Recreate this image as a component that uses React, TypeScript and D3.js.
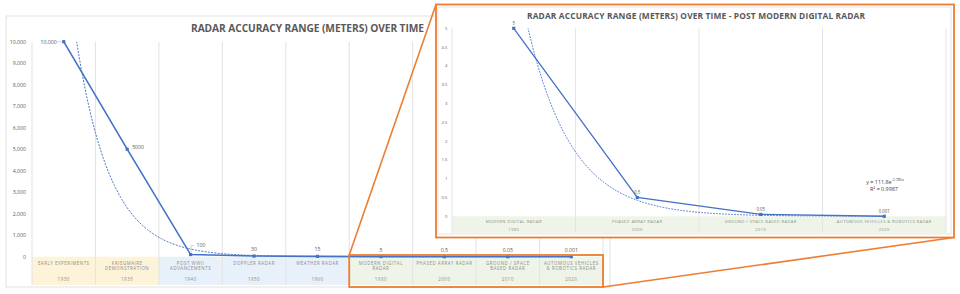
import React from "react";
import * as d3 from "d3";

// ---------- data ----------
const categoryLines: string[][] = [
  ["EARLY EXPERIMENTS"],
  ["KRIEGMAIRE", "DEMONSTRATION"],
  ["POST WWII", "ADVANCEMENTS"],
  ["DOPPLER RADAR"],
  ["WEATHER RADAR"],
  ["MODERN DIGITAL", "RADAR"],
  ["PHASED ARRAY RADAR"],
  ["GROUND / SPACE", "BASED RADAR"],
  ["AUTOMOUS VEHICLES", "& ROBOTICS RADAR"],
];
const years = ["1930", "1935", "1940", "1950", "1960", "1980", "2000", "2010", "2020"];
const accuracy = [10000, 5000, 100, 30, 15, 5, 0.5, 0.05, 0.001];
const accuracyLabels = ["10,000", "5000", "100", "30", "15", "5", "0.5", "0.05", "0.001"];
const eras = ["early", "early", "postwar", "postwar", "postwar", "modern", "modern", "modern", "modern"];
const yTicks = [0, 1000, 2000, 3000, 4000, 5000, 6000, 7000, 8000, 9000, 10000];

const insetCategories = ["MODERN DIGITAL RADAR", "PHASED ARRAY RADAR", "GROUND / SPACE BASED RADAR", "AUTOMOUS VEHICLES & ROBOTICS RADAR"];
const insetYears = ["1980", "2000", "2010", "2020"];
const insetValues = [5, 0.5, 0.05, 0.001];
const insetLabels = ["5", "0.5", "0.05", "0.001"];
const insetTicks = [0, 0.5, 1, 1.5, 2, 2.5, 3, 3.5, 4, 4.5, 5];
const trendR2Label = "R² = 0.9987";

const titleMain = "RADAR ACCURACY RANGE (METERS) OVER TIME";
const titleInset = "RADAR ACCURACY RANGE (METERS) OVER TIME - POST MODERN DIGITAL RADAR";

// ---------- styles ----------
const BLUE = "#4472C4";
const ORANGE = "#ED7D31";
const TXT = "#595959";
const LIGHT = "#8C8C8C";
const GRID = "#E4E4E4";
const FONT = "'Open Sans', 'Noto Sans', sans-serif";
const eraColor: Record<string, string> = { early: "#FDF3D8", postwar: "#E8F0FA", modern: "#EEF5E8" };

function expFit(vals: number[]) {
  const xs = vals.map((_, i) => i + 1);
  const ls = vals.map((v) => Math.log(v));
  const mx = d3.mean(xs)!;
  const ml = d3.mean(ls)!;
  let sxy = 0, sxx = 0;
  xs.forEach((x, i) => { sxy += (x - mx) * (ls[i] - ml); sxx += (x - mx) ** 2; });
  const b = sxy / sxx;
  const a = Math.exp(ml - b * mx);
  return { a, b };
}

function Marker({ x, y }: { x: number; y: number }) {
  return <rect x={x - 1.6} y={y - 1.6} width={3.2} height={3.2} fill={BLUE} />;
}

export default function App() {
  // ----- main chart -----
  const x = d3.scaleBand().domain(years).range([32, 603]);
  const y = d3.scaleLinear().domain([0, 10000]).range([256.7, 41.7]);
  const cx = (i: number) => x(years[i])! + x.bandwidth() / 2;
  const idx = d3.scaleLinear().domain([1, years.length]).range([cx(0), cx(years.length - 1)]);
  const fit = expFit(accuracy);
  const trend = d3.range(1, years.length + 0.001, 0.02).map((t) => [idx(t), y(fit.a * Math.exp(fit.b * t))] as [number, number]);
  const line = d3.line<number>().x((_, i) => cx(i)).y((d) => y(d));
  const trendLine = d3.line<[number, number]>().x((d) => d[0]).y((d) => Math.max(-500, d[1]));
  const bandTop = 256.7;
  const bandBottom = 285;

  // ----- inset chart -----
  const xi = d3.scaleBand().domain(insetYears).range([452, 946]);
  const yi = d3.scaleLinear().domain([0, 5]).range([216.3, 28.3]);
  const cxi = (i: number) => xi(insetYears[i])! + xi.bandwidth() / 2;
  const idxi = d3.scaleLinear().domain([1, insetYears.length]).range([cxi(0), cxi(insetYears.length - 1)]);
  const fiti = expFit(insetValues);
  const trendi = d3.range(1, insetYears.length + 0.001, 0.01).map((t) => [idxi(t), yi(fiti.a * Math.exp(fiti.b * t))] as [number, number]);
  const linei = d3.line<number>().x((_, i) => cxi(i)).y((d) => yi(d));
  const ibandTop = 216.3;
  const ibandBottom = 233;

  // small box on main chart
  const boxX0 = x(years[5])!;
  const boxX1 = x(years[8])! + x.bandwidth();
  const boxY0 = 255;
  const boxY1 = 287;
  const inset = { x0: 436, y0: 4.5, x1: 954, y1: 237.5 };

  return (
    <svg width={960} height={294} style={{ position: "absolute", left: 0, top: 0, fontFamily: FONT }}>
      <defs>
        <clipPath id="clipMain"><rect x={32} y={41.7} width={571} height={216} /></clipPath>
        <clipPath id="clipInset"><rect x={452} y={28.3} width={494} height={188.5} /></clipPath>
      </defs>
      <rect width={960} height={294} fill="#fff" />

      {/* ===== main chart ===== */}
      <rect x={6} y={16} width={604} height={271} fill="#fff" stroke="#D9D9D9" strokeWidth={0.8} />
      <text x={307.5} y={31.5} textAnchor="middle" fontSize={10.2} fontWeight={700} fill={TXT} textLength={233} lengthAdjust="spacing">{titleMain}</text>

      {years.map((yr, i) => (
        <rect key={"b" + yr} x={x(yr)} y={bandTop} width={x.bandwidth()} height={bandBottom - bandTop} fill={eraColor[eras[i]]} />
      ))}
      {d3.range(years.length + 1).map((i) => {
        const gx = 32 + i * x.bandwidth();
        return <line key={"g" + i} x1={gx} x2={gx} y1={41.7} y2={bandBottom} stroke={GRID} strokeWidth={1.1} />;
      })}
      {yTicks.map((t) => (
        <text key={"yt" + t} x={26} y={y(t) + 1.8} textAnchor="end" fontSize={5.2} fill={TXT}>{d3.format(",")(t)}</text>
      ))}
      {categoryLines.map((lines, i) => (
        <g key={"c" + i}>
          {lines.map((l, j) => (
            <text key={j} x={cx(i)} y={264.8 + j * 5.6} textAnchor="middle" fontSize={4.4} letterSpacing={0.55} fill={LIGHT}>{l}</text>
          ))}
          <text x={cx(i)} y={281.2} textAnchor="middle" fontSize={4.4} letterSpacing={0.55} fill={LIGHT}>{years[i]}</text>
        </g>
      ))}

      <g clipPath="url(#clipMain)">
        <path d={trendLine(trend)!} fill="none" stroke={BLUE} strokeWidth={1} strokeDasharray="2 1.3" />
      </g>
      <path d={line(accuracy)!} fill="none" stroke={BLUE} strokeWidth={1.6} />
      {accuracy.map((v, i) => <Marker key={"m" + i} x={cx(i)} y={y(v)} />)}

      {accuracy.map((v, i) => {
        const px = cx(i), py = y(v);
        if (i === 0) {
          return (
            <g key={"l" + i}>
              <text x={px - 7} y={py + 1.8} textAnchor="end" fontSize={5.2} fill={TXT}>{accuracyLabels[i]}</text>
              <line x1={px - 6.5} x2={px - 2.5} y1={py} y2={py} stroke="#A6A6A6" strokeWidth={0.5} />
            </g>
          );
        }
        if (i === 1) {
          return <text key={"l" + i} x={px + 5} y={py} textAnchor="start" fontSize={5.2} fill={TXT}>{accuracyLabels[i]}</text>;
        }
        if (i === 2) {
          return (
            <g key={"l" + i}>
              <path d={`M${px + 0.5},${py - 2.5}V${py - 9}H${px + 3}`} fill="none" stroke="#A6A6A6" strokeWidth={0.5} />
              <text x={px + 6} y={py - 7.3} textAnchor="start" fontSize={5.2} fill={TXT}>{accuracyLabels[i]}</text>
            </g>
          );
        }
        return <text key={"l" + i} x={px} y={py - 5} textAnchor="middle" fontSize={5.2} fill={TXT}>{accuracyLabels[i]}</text>;
      })}

      {/* ===== zoom connectors ===== */}
      <rect x={boxX0} y={boxY0} width={boxX1 - boxX0} height={boxY1 - boxY0} fill="none" stroke={ORANGE} strokeWidth={1.8} />
      <line x1={boxX0} y1={boxY0} x2={inset.x0} y2={inset.y0} stroke={ORANGE} strokeWidth={1.6} />
      <line x1={boxX1} y1={boxY1} x2={inset.x1} y2={inset.y1} stroke={ORANGE} strokeWidth={1.6} />

      {/* ===== inset chart ===== */}
      <rect x={inset.x0} y={inset.y0} width={inset.x1 - inset.x0} height={inset.y1 - inset.y0} fill="#fff" stroke={ORANGE} strokeWidth={1.8} />
      <rect x={438} y={7} width={513} height={227} fill="#fff" stroke="#DADADA" strokeWidth={0.7} />
      <text x={696} y={19} textAnchor="middle" fontSize={8.4} fontWeight={700} fill={TXT} textLength={338} lengthAdjust="spacing">{titleInset}</text>

      {insetYears.map((yr) => (
        <rect key={"ib" + yr} x={xi(yr)} y={ibandTop} width={xi.bandwidth()} height={ibandBottom - ibandTop} fill={eraColor.modern} />
      ))}
      {d3.range(insetYears.length + 1).map((i) => {
        const gx = 452 + i * xi.bandwidth();
        return <line key={"ig" + i} x1={gx} x2={gx} y1={28.3} y2={ibandBottom} stroke={GRID} strokeWidth={1} />;
      })}
      {insetTicks.map((t) => (
        <text key={"iyt" + t} x={447.5} y={yi(t) + 1.4} textAnchor="end" fontSize={4.2} fill={TXT}>{String(t)}</text>
      ))}
      {insetCategories.map((c, i) => (
        <g key={"ic" + i}>
          <text x={cxi(i)} y={223.2} textAnchor="middle" fontSize={4} letterSpacing={0.45} fill={LIGHT}>{c}</text>
          <text x={cxi(i)} y={231} textAnchor="middle" fontSize={4} letterSpacing={0.45} fill={LIGHT}>{insetYears[i]}</text>
        </g>
      ))}
      <g clipPath="url(#clipInset)">
        <path d={trendLine(trendi)!} fill="none" stroke={BLUE} strokeWidth={0.9} strokeDasharray="1.8 1.2" />
      </g>
      <path d={linei(insetValues)!} fill="none" stroke={BLUE} strokeWidth={1.3} />
      {insetValues.map((v, i) => <Marker key={"im" + i} x={cxi(i)} y={yi(v)} />)}
      {insetValues.map((v, i) => (
        <text key={"il" + i} x={cxi(i)} y={yi(v) - 3.5} textAnchor="middle" fontSize={4.4} fill={TXT}>{insetLabels[i]}</text>
      ))}
      <text x={885} y={183.5} textAnchor="middle" fontSize={5.4} fill="#404040">
        {`y = ${fiti.a.toFixed(1)}e`}
        <tspan dy={-2.2} fontSize={3.6}>{`${fiti.b.toFixed(3)}x`}</tspan>
      </text>
      <text x={884} y={191} textAnchor="middle" fontSize={5.4} fill="#404040">{trendR2Label}</text>
    </svg>
  );
}
